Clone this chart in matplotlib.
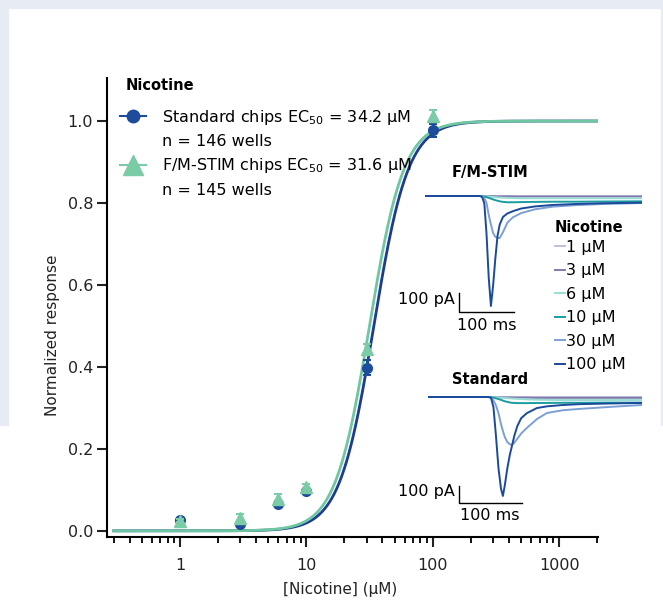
import numpy as np
import matplotlib
matplotlib.use("Agg")
import matplotlib.pyplot as plt
from matplotlib.lines import Line2D
from matplotlib.patches import Rectangle

# dose-response points (uM, normalized)
conc = [1, 3, 6, 10, 30, 100]
std_resp = [0.027, 0.017, 0.066, 0.097, 0.398, 0.977]
std_err = [0.004, 0.004, 0.006, 0.005, 0.018, 0.016]
fm_resp = [0.025, 0.032, 0.077, 0.106, 0.443, 1.013]
fm_err = [0.004, 0.008, 0.012, 0.008, 0.014, 0.014]
std_ec50 = 34.2
fm_ec50 = 31.6
hill_n = 3.2

# inset traces, F/M-STIM (time ms, current pA)
fm_t = [0, 100, 104, 108, 112, 116, 120, 124, 128, 132, 136, 142, 150, 160, 175, 200, 233, 275, 325, 395]
fm_1 = [0, 0, 0, 0, 0, 0, 0, 0, 0, 0, 0, 0, 0, 0, 0, 0, 0, 0, 0, 0]
fm_3 = [0, 0, 0, 0, -1, -1, -1, -1, -2, -2, -2, -2, -2, -3, -3, -3, -3, -3, -3, -3]
fm_6 = [0, 0, 0, -1, -2, -3, -4, -5, -6, -7, -8, -9, -10, -11, -12, -12, -12, -12, -12, -12]
fm_10 = [0, 0, -1, -3, -6, -10, -14, -18, -22, -25, -28, -31, -33, -33, -32, -31, -30, -30, -29, -28]
fm_30 = [0, 0, -2, -10, -37, -100, -150, -195, -215, -220, -221, -190, -140, -112, -90, -70, -56, -48, -42, -37]
fm_100 = [0, 0, -5, -40, -200, -430, -579, -470, -330, -210, -150, -110, -92, -80, -66, -55, -47, -42, -38, -35]

# inset traces, Standard
std_t = [0, 95, 100, 104, 108, 112, 116, 119, 122, 126, 130, 133, 137, 142, 148, 157, 173, 189, 214, 241, 290, 340]
std_1 = [0] * 22
std_3 = [0, 0, 0, -1, -1, -2, -2, -2, -3, -3, -3, -3, -4, -4, -4, -4, -5, -5, -5, -5, -5, -5]
std_6 = [0, 0, 0, -1, -2, -3, -4, -5, -6, -7, -8, -9, -10, -11, -12, -14, -16, -17, -18, -18, -18, -18]
std_10 = [0, 0, -1, -4, -8, -12, -17, -21, -25, -29, -32, -34, -35, -36, -36, -36, -35, -35, -34, -34, -33, -33]
std_30 = [0, 0, -3, -20, -50, -95, -160, -200, -235, -265, -278, -282, -270, -245, -215, -182, -130, -94, -78, -70, -58, -47]
std_100 = [0, 0, -3, -60, -230, -420, -540, -582, -520, -420, -340, -294, -230, -170, -125, -95, -65, -55, -47, -42, -38, -35]

trace_labels = ["1 µM", "3 µM", "6 µM", "10 µM", "30 µM", "100 µM"]
trace_colors = ["#c3bde0", "#7f7cab", "#9adcd5", "#1a9d9f", "#7c9fd4", "#1a4a9a"]

blue = "#1d4c9c"
green = "#7acba6"
blue_fit = "#1e3d92"
green_fit = "#6fc7a2"

fs = 11.5
plt.rcParams["font.family"] = "DejaVu Sans"
plt.rcParams["font.size"] = fs

W, H = 663, 601
fig = plt.figure(figsize=(W / 100, H / 100), dpi=100)
fig.patch.set_facecolor("white")

# page background strips
bg = "#e6ebf4"
fig.patches.append(Rectangle((0, 1 - 8 / H), 1, 8 / H, transform=fig.transFigure, color=bg, zorder=-10))
fig.patches.append(Rectangle((0, 1 - 425 / H), 8 / W, 425 / H, transform=fig.transFigure, color=bg, zorder=-10))
fig.patches.append(Rectangle((661 / W, 1 - 425 / H), 2 / W, 425 / H, transform=fig.transFigure, color=bg, zorder=-10))


def px_axes(x0, y0, x1, y1):
    return fig.add_axes([x0 / W, 1 - y1 / H, (x1 - x0) / W, (y1 - y0) / H])


ax = px_axes(107, 78, 598, 537)
ax.patch.set_alpha(0)

xx = np.logspace(np.log10(0.3), np.log10(2000), 400)
ax.plot(xx, 1 / (1 + (std_ec50 / xx) ** hill_n), color=blue_fit, lw=2, zorder=2)
ax.plot(xx, 1 / (1 + (fm_ec50 / xx) ** hill_n), color=green_fit, lw=2, zorder=2)

ax.errorbar(conc, std_resp, yerr=std_err, fmt="o", color=blue, ms=7, capsize=3,
            elinewidth=1.5, capthick=1.5, zorder=3)
ax.errorbar(conc, fm_resp, yerr=fm_err, fmt="^", color=green, ms=9, capsize=3,
            elinewidth=1.5, capthick=1.5, zorder=4)

ax.set_xscale("log")
ax.set_xlim(0.265, 2030)
ax.set_ylim(-0.015, 1.105)
ax.set_xticks([1, 10, 100, 1000])
ax.set_xticklabels(["1", "10", "100", "1000"])
ax.set_yticks([0, 0.2, 0.4, 0.6, 0.8, 1.0])
ax.set_yticklabels(["0.0", "0.2", "0.4", "0.6", "0.8", "1.0"])
for s in ["top", "right"]:
    ax.spines[s].set_visible(False)
for s in ["left", "bottom"]:
    ax.spines[s].set_linewidth(1.5)
ax.tick_params(which="major", length=7, width=1.5, labelsize=fs, pad=3, colors="#222222")
ax.tick_params(axis="x", which="major", pad=8)
ax.tick_params(which="minor", length=4, width=1.3)
ax.set_xlabel("[Nicotine] (µM)", fontsize=11, color="#222222")
ax.set_ylabel("Normalized response", fontsize=11, color="#222222")
ax.xaxis.set_label_coords((340 - 107) / 491, -(582 - 537) / 459)
ax.yaxis.set_label_coords((60 - 107) / 491, (537 - 335) / 459)

fig.text(126 / W, 1 - 85 / H, "Nicotine", ha="left", va="center", fontsize=10.5, weight="bold")
h_std = Line2D([], [], color=blue, marker="o", ms=9, lw=1.5)
h_fm = Line2D([], [], color=green, marker="^", ms=15, lw=1.5)
h_blank = Line2D([], [], alpha=0)
ax.legend([h_std, h_blank, h_fm, h_blank],
          ["Standard chips EC$_{50}$ = 34.2 µM", "n = 146 wells",
           "F/M-STIM chips EC$_{50}$ = 31.6 µM", "n = 145 wells"],
          loc="upper left", frameon=False,
          bbox_to_anchor=(120 / W, 1 - 108 / H), bbox_transform=fig.transFigure,
          handlelength=1.65, handletextpad=1.0, labelspacing=0.45, borderpad=0,
          borderaxespad=0, fontsize=fs)

# F/M-STIM inset
fm_ax = px_axes(425, 186, 642, 330)
fm_ax.set_xlim(0, 395)
fm_ax.set_ylim(-(330 - 196) / 0.19, 10 / 0.19)
fm_ax.axis("off")
fm_lines = []
for tr, c in zip([fm_1, fm_3, fm_6, fm_10, fm_30, fm_100], trace_colors):
    ln, = fm_ax.plot(fm_t, tr, color=c, lw=1.4)
    fm_lines.append(ln)
fm_ax.plot([62, 62, 162], [-510, -610, -610], color="black", lw=1, clip_on=False)
fm_ax.text(55, -545, "100 pA", ha="right", va="center", fontsize=fs)
fm_ax.text(112, -640, "100 ms", ha="center", va="top", fontsize=fs)
fig.text(490 / W, 1 - 172 / H, "F/M-STIM", ha="center", va="center", fontsize=10.5, weight="bold")

fig.text(555 / W, 1 - 228 / H, "Nicotine", ha="left", va="center", fontsize=10.5, weight="bold")
fm_ax.legend(fm_lines, trace_labels,
             loc="upper left", frameon=False, bbox_to_anchor=(555 / W, 1 - 240 / H),
             bbox_transform=fig.transFigure, handlelength=0.63, handletextpad=0.08,
             labelspacing=0.53, borderpad=0, borderaxespad=0, fontsize=fs)

# Standard inset
st_ax = px_axes(428, 387, 642, 525)
st_ax.set_xlim(0, 340)
st_ax.set_ylim(-(525 - 397) / 0.17, 10 / 0.17)
st_ax.axis("off")
for tr, c in zip([std_1, std_3, std_6, std_10, std_30, std_100], trace_colors):
    st_ax.plot(std_t, tr, color=c, lw=1.4)
st_ax.plot([49, 49, 149], [-524, -624, -624], color="black", lw=1, clip_on=False)
st_ax.text(43, -555, "100 pA", ha="right", va="center", fontsize=fs)
st_ax.text(98, -650, "100 ms", ha="center", va="top", fontsize=fs)
fig.text(490 / W, 1 - 380 / H, "Standard", ha="center", va="center", fontsize=10.5, weight="bold")

fig.savefig("out.png", dpi=100)
